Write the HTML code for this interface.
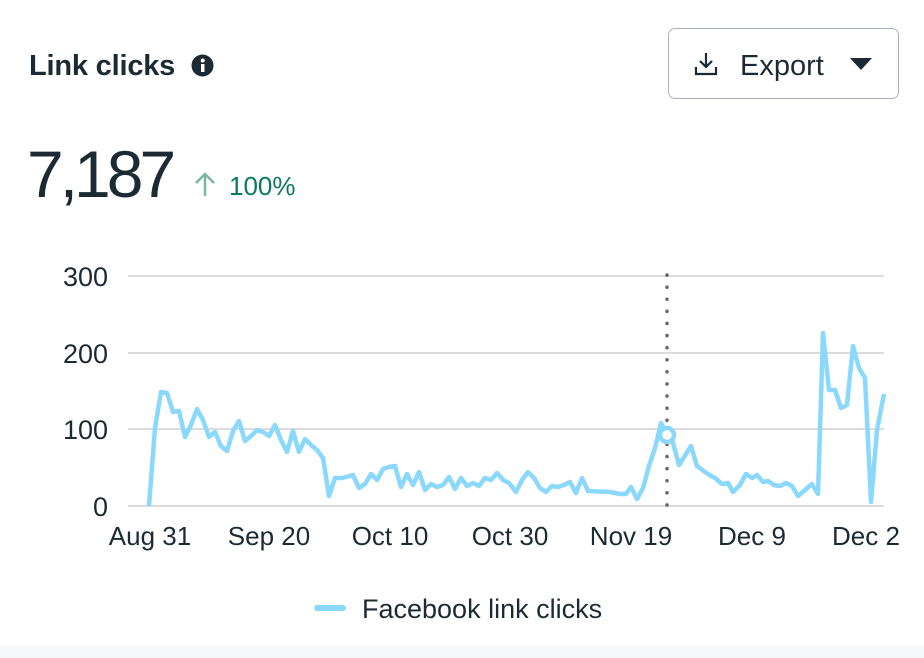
<!DOCTYPE html>
<html><head><meta charset="utf-8"><style>
body{margin:0;width:924px;height:658px;background:#fff;overflow:hidden;font-family:"Liberation Sans",sans-serif;color:#1c2b33;position:relative}
.a{position:absolute;white-space:nowrap}
</style></head><body>
<div class="a" style="left:29px;top:50px;font-size:29px;font-weight:bold;letter-spacing:-0.2px">Link clicks</div>
<svg class="a" style="left:191px;top:54px" width="23" height="23"><circle cx="11.5" cy="11.5" r="11" fill="#1c2b33"/><rect x="10" y="10" width="3.5" height="8" fill="#fff"/><circle cx="11.7" cy="6.5" r="2" fill="#fff"/></svg>
<div class="a" style="left:668px;top:28px;width:229px;height:69px;border:1.5px solid #a9b3bf;border-radius:7px"></div>
<svg class="a" style="left:694px;top:51px" width="26" height="26"><path d="M12 2v13M6 10l6 6 6-6M2 16v7h20v-7" fill="none" stroke="#1c2b33" stroke-width="2.2"/></svg>
<div class="a" style="left:740px;top:50px;font-size:29px">Export</div>
<svg class="a" style="left:849px;top:57px" width="24" height="14"><path d="M1 1h22l-11 12z" fill="#1c2b33"/></svg>
<div class="a" style="left:27px;top:136px;font-size:66px;letter-spacing:-4px">7,187</div>
<svg class="a" style="left:193px;top:171px" width="24" height="26"><path d="M12 25V3M3 12l9-9 9 9" fill="none" stroke="#7ab8a0" stroke-width="2.5"/></svg>
<div class="a" style="left:229px;top:171px;font-size:26px;color:#0b7a5c">100%</div>
<svg class="a" style="left:0;top:0" width="924" height="658">
<g stroke="#dcdcdc" stroke-width="2"><line x1="128" y1="276" x2="884" y2="276"/><line x1="128" y1="353" x2="884" y2="353"/><line x1="128" y1="429" x2="884" y2="429"/><line x1="128" y1="506" x2="884" y2="506"/></g>
<g font-size="27" fill="#1c2b33" text-anchor="end" font-family="Liberation Sans"><text x="108" y="286">300</text><text x="108" y="363">200</text><text x="108" y="439">100</text><text x="108" y="516">0</text></g>
<g font-size="26" fill="#1c2b33" text-anchor="middle" font-family="Liberation Sans"><text x="150" y="545">Aug 31</text><text x="269" y="545">Sep 20</text><text x="390" y="545">Oct 10</text><text x="510" y="545">Oct 30</text><text x="631" y="545">Nov 19</text><text x="752" y="545">Dec 9</text><text x="866" y="545">Dec 2</text></g>
<line x1="667" y1="275" x2="667" y2="506" stroke="#666" stroke-width="3.5" stroke-dasharray="0.1 12" stroke-linecap="round"/>
<polyline fill="none" stroke="#8ad8fc" stroke-width="4.5" stroke-linejoin="round" points="149,506 155,428 161,392 167,393 173,412 179,411 185,437 191,425 197,409 203,420 209,437 215,432 221,446 227,451 233,431 239,421 245,441 251,436 257,430 263,432 269,436 275,425 281,440 287,452 293,431 299,452 305,439 311,445 317,450 323,458 329,496 335,478 342,478 353,475 359,488 365,484 371,474 377,480 383,469 389,467 395,466 401,487 407,474 413,485 419,472 425,490 431,484 437,487 443,485 449,477 455,489 461,478 467,486 473,483 479,486 485,478 491,480 497,473 503,480 509,483 516,492 522,480 528,472 534,478 540,488 546,492 552,486 558,487 564,485 570,482 576,493 582,478 588,491 610,492 620,494 626,494 631,487 637,499 643,488 649,466 655,448 661,423 667,435 672,439 679,465 691,446 697,466 705,472 711,476 715,478 722,484 728,483 733,492 740,485 746,474 752,478 757,475 763,482 768,481 774,485 780,486 786,483 792,486 798,496 805,490 812,484 818,494 823,333 829,390 835,390 841,408 847,405 853,346 859,368 865,378 871,502 877,430 884,394"/>
<circle cx="667" cy="435" r="7" fill="#fff" stroke="#8ad8fc" stroke-width="4.5"/>
<line x1="317" y1="608" x2="343" y2="608" stroke="#8ad8fc" stroke-width="6" stroke-linecap="round"/>
<text x="362" y="618" font-size="27" fill="#1c2b33" font-family="Liberation Sans">Facebook link clicks</text>
<rect x="0" y="646" width="924" height="12" fill="#f7f8fa"/>
</svg>
</body></html>
